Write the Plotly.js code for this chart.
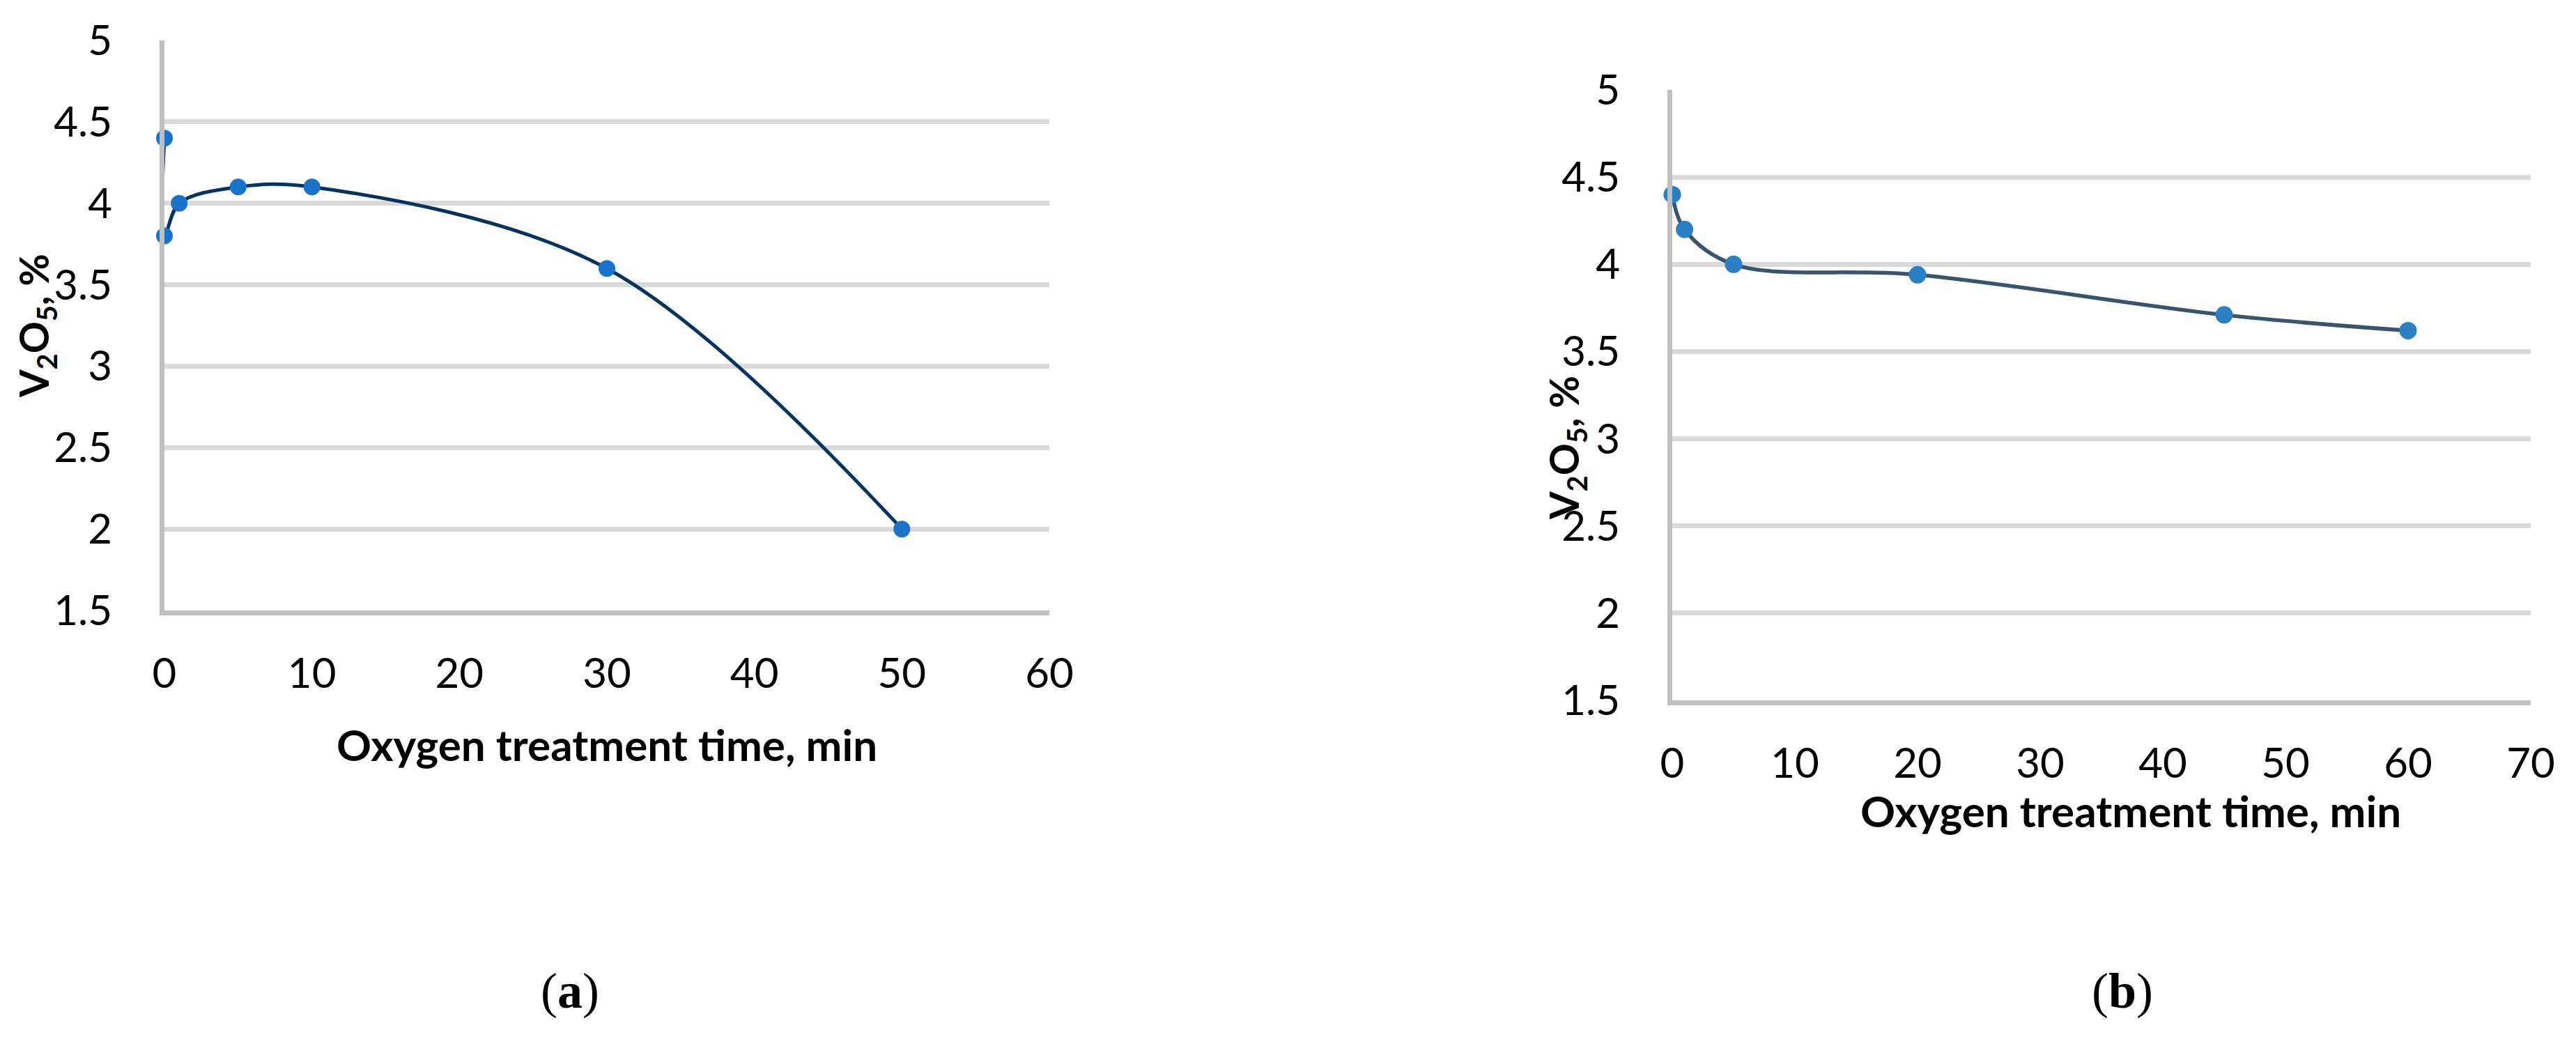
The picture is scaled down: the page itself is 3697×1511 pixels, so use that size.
<!DOCTYPE html>
<html>
<head>
<meta charset="utf-8">
<script src="https://cdn.plot.ly/plotly-3.0.1.min.js"></script>
<style>
  html, body { margin: 0; padding: 0; background: #fff; }
  #chart { width: 3697px; height: 1511px; }
</style>
</head>
<body>
<div id="chart"></div>
<script>
// (a) oxygen treatment, first run
const timeA = [0, 0, 1, 5, 10, 30, 50];
const v2o5A = [4.4, 3.8, 4.0, 4.1, 4.1, 3.6, 2.0];

// (b) oxygen treatment, second run
const timeB = [0, 1, 5, 20, 45, 60];
const v2o5B = [4.4, 4.2, 4.0, 3.94, 3.71, 3.62];

const yTicks = [1.5, 2, 2.5, 3, 3.5, 4, 4.5, 5];
const xTicksA = [0, 10, 20, 30, 40, 50, 60];
const xTicksB = [0, 10, 20, 30, 40, 50, 60, 70];

const W = 3697, H = 1511;
const px = v => v / W;          // pixel -> paper x
const py = v => 1 - v / H;      // pixel -> paper y

const tickFont = { family: "Lato, 'Open Sans', sans-serif", size: 60, color: '#000' };
const titleFont = { family: "Lato, 'Open Sans', sans-serif", size: 62, color: '#000' };
const yTitleFont = { family: "Lato, 'Open Sans', sans-serif", size: 57, color: '#000' };
const labelFont = { family: "'Liberation Serif', 'DejaVu Serif', serif", size: 72, color: '#000' };

const traces = [
    {
        x: timeA, y: v2o5A,
        type: 'scatter', mode: 'lines+markers',
        line: { shape: 'spline', smoothing: 1, color: '#06345f', width: 5 },
        marker: { size: 24, color: '#1a73c8' },
        cliponaxis: false,
        xaxis: 'x', yaxis: 'y'
    },
    {
        x: timeB, y: v2o5B,
        type: 'scatter', mode: 'lines+markers',
        line: { shape: 'spline', smoothing: 1, color: '#3a546f', width: 5.5 },
        marker: { size: 25, color: '#2a80c2' },
        cliponaxis: false,
        xaxis: 'x2', yaxis: 'y2'
    }
];

function yAxis(domain, anchor) {
    return {
        domain: domain, anchor: anchor,
        range: [1.5, 5], tickvals: yTicks, ticktext: yTicks.map(String),
        showgrid: true, gridcolor: '#d9d9d9', gridwidth: 7,
        showline: true, linecolor: '#bfbfbf', linewidth: 7,
        zeroline: false, ticks: '', ticklabelstandoff: 56,
        tickfont: tickFont, fixedrange: true
    };
}

function xAxis(domain, anchor, range, ticks) {
    return {
        domain: domain, anchor: anchor,
        range: range, tickvals: ticks, ticktext: ticks.map(String),
        showgrid: false,
        showline: true, linecolor: '#bfbfbf', linewidth: 7,
        zeroline: false, ticks: '', ticklabelstandoff: 32,
        tickfont: tickFont, fixedrange: true
    };
}

const layout = {
    width: W, height: H,
    margin: { l: 0, r: 0, t: 0, b: 0 },
    paper_bgcolor: '#fff', plot_bgcolor: '#fff',
    showlegend: false,
    xaxis: xAxis([px(236), px(1506)], 'y', [0, 60], xTicksA),
    yaxis: yAxis([py(876), py(58)], 'x'),
    xaxis2: xAxis([px(2400), px(3632)], 'y2', [0, 70], xTicksB),
    yaxis2: yAxis([py(1005), py(129)], 'x2'),
    annotations: [
        { text: '<b>Oxygen treatment time, min</b>', x: px(871), y: py(1068), xref: 'paper', yref: 'paper',
          xanchor: 'center', yanchor: 'middle', showarrow: false, font: titleFont },
        { text: '<b>Oxygen treatment time, min</b>', x: px(3058), y: py(1163), xref: 'paper', yref: 'paper',
          xanchor: 'center', yanchor: 'middle', showarrow: false, font: titleFont },
        { text: '<b>V<sub>2</sub>O<sub>5</sub>, %</b>', x: px(52), y: py(468), xref: 'paper', yref: 'paper',
          xanchor: 'center', yanchor: 'middle', textangle: -90, showarrow: false, font: yTitleFont },
        { text: '<b>V<sub>2</sub>O<sub>5</sub>, %</b>', x: px(2248), y: py(643), xref: 'paper', yref: 'paper',
          xanchor: 'center', yanchor: 'middle', textangle: -90, showarrow: false, font: yTitleFont },
        { text: '(<b>a</b>)', x: px(818), y: py(1422), xref: 'paper', yref: 'paper',
          xanchor: 'center', yanchor: 'middle', showarrow: false, font: labelFont },
        { text: '(<b>b</b>)', x: px(3046), y: py(1422), xref: 'paper', yref: 'paper',
          xanchor: 'center', yanchor: 'middle', showarrow: false, font: labelFont }
    ]
};

Plotly.newPlot('chart', traces, layout, { staticPlot: true, displayModeBar: false });
</script>
</body>
</html>
